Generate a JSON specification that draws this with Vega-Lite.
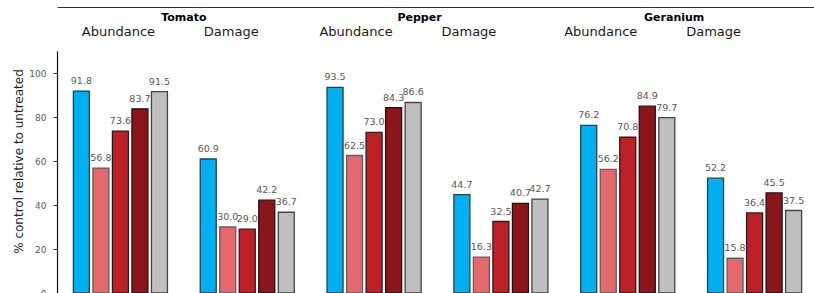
{
  "$schema": "https://vega.github.io/schema/vega-lite/v6.json",
  "width": 761,
  "height": 242,
  "padding": {"left": 12, "top": 7, "right": 0, "bottom": 5},
  "background": "white",
  "config": {"view": {"stroke": null}, "font": "DejaVu Sans"},
  "data": {"values": [
    {"crop": "Tomato", "measure": "Abundance", "grp": "Tomato|Abundance", "trt": "T1", "value": 91.8},
    {"crop": "Tomato", "measure": "Abundance", "grp": "Tomato|Abundance", "trt": "T2", "value": 56.8},
    {"crop": "Tomato", "measure": "Abundance", "grp": "Tomato|Abundance", "trt": "T3", "value": 73.6},
    {"crop": "Tomato", "measure": "Abundance", "grp": "Tomato|Abundance", "trt": "T4", "value": 83.7},
    {"crop": "Tomato", "measure": "Abundance", "grp": "Tomato|Abundance", "trt": "T5", "value": 91.5},
    {"crop": "Tomato", "measure": "Damage", "grp": "Tomato|Damage", "trt": "T1", "value": 60.9},
    {"crop": "Tomato", "measure": "Damage", "grp": "Tomato|Damage", "trt": "T2", "value": 30.0},
    {"crop": "Tomato", "measure": "Damage", "grp": "Tomato|Damage", "trt": "T3", "value": 29.0},
    {"crop": "Tomato", "measure": "Damage", "grp": "Tomato|Damage", "trt": "T4", "value": 42.2},
    {"crop": "Tomato", "measure": "Damage", "grp": "Tomato|Damage", "trt": "T5", "value": 36.7},
    {"crop": "Pepper", "measure": "Abundance", "grp": "Pepper|Abundance", "trt": "T1", "value": 93.5},
    {"crop": "Pepper", "measure": "Abundance", "grp": "Pepper|Abundance", "trt": "T2", "value": 62.5},
    {"crop": "Pepper", "measure": "Abundance", "grp": "Pepper|Abundance", "trt": "T3", "value": 73.0},
    {"crop": "Pepper", "measure": "Abundance", "grp": "Pepper|Abundance", "trt": "T4", "value": 84.3},
    {"crop": "Pepper", "measure": "Abundance", "grp": "Pepper|Abundance", "trt": "T5", "value": 86.6},
    {"crop": "Pepper", "measure": "Damage", "grp": "Pepper|Damage", "trt": "T1", "value": 44.7},
    {"crop": "Pepper", "measure": "Damage", "grp": "Pepper|Damage", "trt": "T2", "value": 16.3},
    {"crop": "Pepper", "measure": "Damage", "grp": "Pepper|Damage", "trt": "T3", "value": 32.5},
    {"crop": "Pepper", "measure": "Damage", "grp": "Pepper|Damage", "trt": "T4", "value": 40.7},
    {"crop": "Pepper", "measure": "Damage", "grp": "Pepper|Damage", "trt": "T5", "value": 42.7},
    {"crop": "Geranium", "measure": "Abundance", "grp": "Geranium|Abundance", "trt": "T1", "value": 76.2},
    {"crop": "Geranium", "measure": "Abundance", "grp": "Geranium|Abundance", "trt": "T2", "value": 56.2},
    {"crop": "Geranium", "measure": "Abundance", "grp": "Geranium|Abundance", "trt": "T3", "value": 70.8},
    {"crop": "Geranium", "measure": "Abundance", "grp": "Geranium|Abundance", "trt": "T4", "value": 84.9},
    {"crop": "Geranium", "measure": "Abundance", "grp": "Geranium|Abundance", "trt": "T5", "value": 79.7},
    {"crop": "Geranium", "measure": "Damage", "grp": "Geranium|Damage", "trt": "T1", "value": 52.2},
    {"crop": "Geranium", "measure": "Damage", "grp": "Geranium|Damage", "trt": "T2", "value": 15.8},
    {"crop": "Geranium", "measure": "Damage", "grp": "Geranium|Damage", "trt": "T3", "value": 36.4},
    {"crop": "Geranium", "measure": "Damage", "grp": "Geranium|Damage", "trt": "T4", "value": 45.5},
    {"crop": "Geranium", "measure": "Damage", "grp": "Geranium|Damage", "trt": "T5", "value": 37.5}
  ]},
  "layer": [
    {
      "encoding": {
        "x": {
          "field": "grp", "type": "nominal",
          "scale": {"domain": ["Tomato|Abundance", "Tomato|Damage", "Pepper|Abundance", "Pepper|Damage", "Geranium|Abundance", "Geranium|Damage"], "paddingInner": 0, "paddingOuter": 0},
          "axis": {
            "orient": "top", "title": null, "domain": false, "ticks": false,
            "labelAngle": 0, "labelExpr": "split(datum.value, '|')[1]",
            "labelFontSize": 13, "labelColor": "#1a1a1a", "labelPadding": 13,
            "labelOffset": {
              "condition": [
                {"test": "datum.value == 'Tomato|Damage'", "value": -16},
                {"test": "datum.value == 'Pepper|Abundance'", "value": -18},
                {"test": "datum.value == 'Pepper|Damage'", "value": -32},
                {"test": "datum.value == 'Geranium|Abundance'", "value": -27},
                {"test": "datum.value == 'Geranium|Damage'", "value": -41}
              ],
              "value": -2
            }
          }
        },
        "xOffset": {
          "field": "trt", "type": "nominal",
          "scale": {"domain": ["T1", "T2", "T3", "T4", "T5"], "paddingInner": 0.18, "paddingOuter": 0.84}
        },
        "y": {
          "field": "value", "type": "quantitative",
          "scale": {"domain": [0, 110], "nice": false},
          "axis": {
            "values": [0, 20, 40, 60, 80, 100], "grid": false,
            "title": "% control relative to untreated", "titleFontSize": 12, "titleFontWeight": "normal",
            "titleColor": "#262626", "titlePadding": 3, "titleY": 110,
            "labelFontSize": 9, "labelColor": "#595959", "labelPadding": 7,
            "tickSize": 4, "tickColor": "#333", "domainColor": "#111", "domainWidth": 1.2
          }
        }
      },
      "layer": [
        {
          "mark": {"type": "bar", "strokeWidth": 1.3},
          "encoding": {
            "fill": {"field": "trt", "type": "nominal", "legend": null,
              "scale": {"domain": ["T1", "T2", "T3", "T4", "T5"], "range": ["#00B0F0", "#E5686D", "#BE2028", "#8B151B", "#BFBFBF"]}},
            "stroke": {"field": "trt", "type": "nominal", "legend": null,
              "scale": {"domain": ["T1", "T2", "T3", "T4", "T5"], "range": ["#2b3f48", "#5e5e5e", "#2e1a1a", "#261010", "#444444"]}}
          }
        },
        {
          "mark": {"type": "text", "baseline": "bottom", "dy": -5, "fontSize": 9.5, "color": "#595959"},
          "encoding": {
            "text": {"field": "value", "type": "quantitative", "format": ".1f"}
          }
        }
      ]
    },
    {
      "mark": {"type": "rule", "opacity": 0},
      "encoding": {
        "x": {
          "field": "crop", "type": "nominal",
          "scale": {"domain": ["Tomato", "Pepper", "Geranium"], "paddingInner": 0, "paddingOuter": 0},
          "axis": {
            "orient": "top", "title": null, "offset": 44, "domain": true, "domainColor": "#333", "domainWidth": 1,
            "ticks": false, "tickSize": 0, "labelAngle": 0, "labelBaseline": "top", "labelPadding": -4,
            "labelFontSize": 11, "labelFontWeight": "bold", "labelColor": "#000",
            "labelOffset": {
              "condition": [
                {"test": "datum.value == 'Pepper'", "value": -18},
                {"test": "datum.value == 'Geranium'", "value": -17}
              ],
              "value": 0
            }
          }
        }
      }
    }
  ],
  "resolve": {"scale": {"x": "independent"}, "axis": {"x": "independent"}}
}
